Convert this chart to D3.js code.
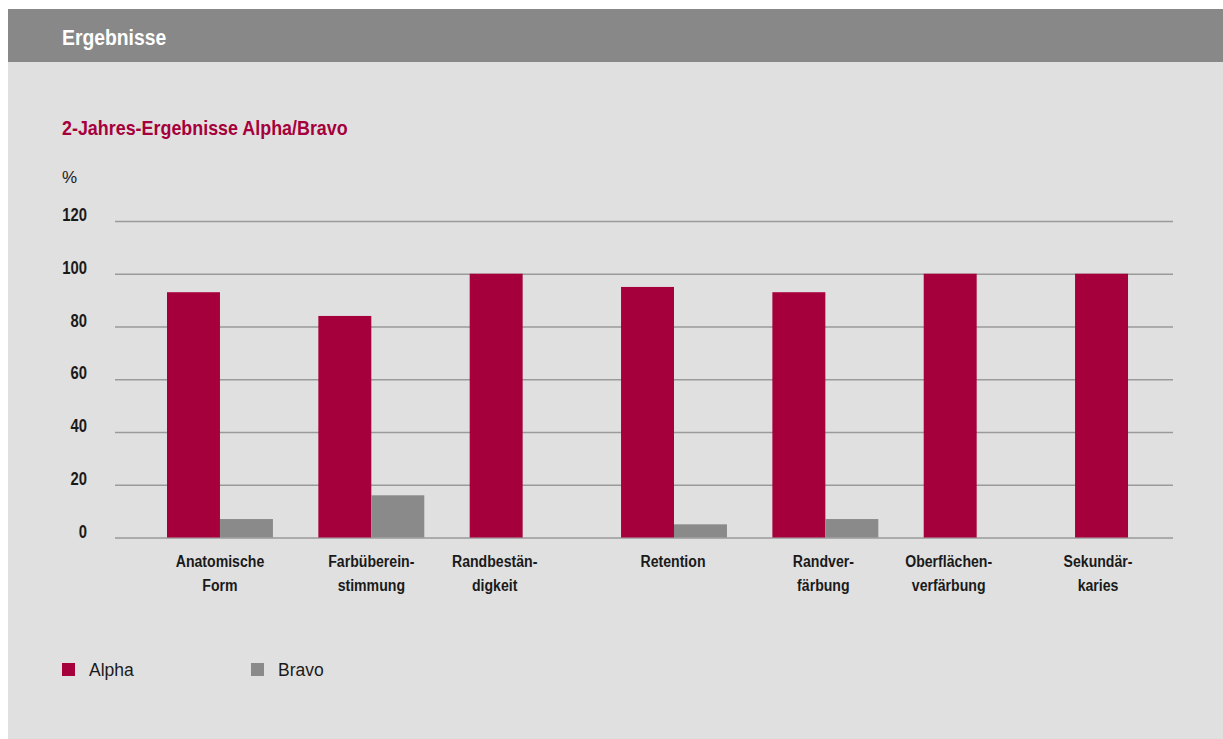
<!DOCTYPE html>
<html lang="de">
<head>
<meta charset="utf-8">
<script src="https://cdn.jsdelivr.net/npm/d3@7"></script>
<style>
  html, body { margin: 0; padding: 0; background: #ffffff; }
  svg { display: block; }
</style>
</head>
<body>
<svg id="chart" width="1223" height="739"></svg>
<script>
// Kategorien (mit Zeilenumbrüchen für die Achsenbeschriftung)
const categories = [
  ["Anatomische", "Form"],
  ["Farbüberein-", "stimmung"],
  ["Randbestän-", "digkeit"],
  ["Retention"],
  ["Randver-", "färbung"],
  ["Oberflächen-", "verfärbung"],
  ["Sekundär-", "karies"]
];
const alphaValues = [93, 84, 100, 95, 93, 100, 100];
const bravoValues = [7, 16, 0, 5, 7, 0, 0];
const yTicks = [0, 20, 40, 60, 80, 100, 120];
const seriesNames = ["Alpha", "Bravo"];

const colors = { Alpha: "#a6003c", Bravo: "#8a8a8a" };
const sans = "'Liberation Sans', Arial, sans-serif";

const svg = d3.select("#chart");

// Schmal laufende Schrift: horizontal gestauchter Text
function narrowText(parent, x, y, str, opts) {
  return parent.append("text")
    .attr("transform", `translate(${x},${y}) scale(${opts.squeeze},1)`)
    .attr("text-anchor", opts.anchor || "start")
    .attr("font-family", sans)
    .attr("font-weight", opts.weight || "bold")
    .attr("font-size", opts.size)
    .attr("fill", opts.fill || "#1a1a1a")
    .text(str);
}

// Hintergrund und Kopfzeile
svg.append("rect").attr("x", 8).attr("y", 9).attr("width", 1215).attr("height", 730).attr("fill", "#e0e0e0");
svg.append("rect").attr("x", 8).attr("y", 9).attr("width", 1215).attr("height", 53).attr("fill", "#888888");
narrowText(svg, 62, 45, "Ergebnisse", { size: 22.5, squeeze: 0.86, fill: "#ffffff" });
narrowText(svg, 62, 135, "2-Jahres-Ergebnisse Alpha/Bravo", { size: 20, squeeze: 0.895, fill: "#a6003c" });

svg.append("text").attr("x", 62).attr("y", 183)
  .attr("font-family", sans).attr("font-size", 17)
  .attr("fill", "#1a1a1a").text("%");

// Skalen
const keys = categories.map(c => c.join(" "));
const y = d3.scaleLinear().domain([0, 120]).range([537.5, 221]);
const x = d3.scaleBand().domain(keys).range([144.3, 1203.7]).paddingInner(0.3).paddingOuter(0.15);

// Gitterlinien
const gridX0 = 115, gridX1 = 1173;
const yAxis = d3.axisLeft(y).tickValues(yTicks).tickSize(-(gridX1 - gridX0)).tickFormat("");
const gy = svg.append("g").attr("transform", `translate(${gridX0},0)`).call(yAxis);
gy.select(".domain").remove();
gy.selectAll(".tick line").attr("stroke", "#9a9a9a").attr("stroke-width", 1.5);
gy.selectAll(".tick text").remove();

// Achsenwerte
const fmt = d3.format("d");
const yLabels = svg.append("g");
yTicks.forEach(t => narrowText(yLabels, 87, y(t), fmt(t), { size: 18.5, squeeze: 0.8, anchor: "end" }));

// Balken
const half = x.bandwidth() / 2;
const rows = keys.map((k, i) => ({ key: k, Alpha: alphaValues[i], Bravo: bravoValues[i] }));
const groups = svg.append("g").selectAll("g").data(rows).join("g")
  .attr("transform", d => `translate(${x(d.key)},0)`);
seriesNames.forEach((s, si) => {
  groups.filter(d => d[s] > 0).append("rect")
    .attr("x", si * half)
    .attr("y", d => y(d[s]))
    .attr("width", half)
    .attr("height", d => y(0) - y(d[s]))
    .attr("fill", colors[s]);
});

// Kategorienbeschriftung; bei Gruppen ohne Bravo-Balken rückt der Text nach links
const labelNudge = [0, 0, -28, -1, -2, -28, -30];
const xLabels = svg.append("g");
categories.forEach((lines, i) => {
  const cx = x(keys[i]) + half + labelNudge[i];
  lines.forEach((line, j) => {
    narrowText(xLabels, cx, 567 + j * 23.5, line, { size: 17, squeeze: 0.83, anchor: "middle" });
  });
});

// Legende
const legendX = [62, 251];
const legend = svg.append("g").selectAll("g").data(seriesNames).join("g")
  .attr("transform", (d, i) => `translate(${legendX[i]},663)`);
legend.append("rect").attr("width", 13).attr("height", 13).attr("fill", d => colors[d]);
legend.append("text").attr("x", 27).attr("y", 13)
  .attr("font-family", sans).attr("font-size", 17.5).attr("fill", "#1a1a1a")
  .text(d => d);
</script>
</body>
</html>
